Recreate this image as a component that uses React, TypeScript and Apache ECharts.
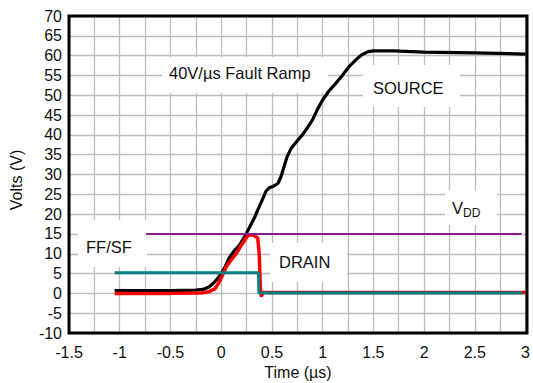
import React, { useEffect, useRef } from 'react';
import * as echarts from 'echarts';

const xTicks = { min: -1.5, max: 3, step: 0.25 };
const yTicks = { min: -10, max: 70, step: 5 };

const sourceData: [number, number][] = [
  [-1.05, 0.7], [-0.5, 0.7], [-0.25, 0.8], [-0.18, 1.0], [-0.12, 1.6], [-0.08, 2.5],
  [-0.04, 3.6], [0, 5.0], [0.04, 6.8], [0.08, 9.0], [0.13, 10.8], [0.18, 12.2],
  [0.22, 13.8], [0.25, 15.2], [0.29, 17.2], [0.33, 19.2], [0.36, 21], [0.39, 22.7],
  [0.42, 24.5], [0.44, 25.7], [0.47, 26.6], [0.52, 27.1], [0.56, 27.8], [0.59, 29.5],
  [0.62, 32], [0.65, 34.5], [0.69, 36.6], [0.74, 38.2], [0.8, 40], [0.85, 41.8],
  [0.9, 43.8], [0.95, 46.5], [1.0, 48.8], [1.06, 51], [1.13, 53], [1.2, 55.2],
  [1.26, 57.2], [1.33, 59], [1.39, 60.3], [1.45, 61], [1.5, 61.2], [1.7, 61.2],
  [2.0, 60.9], [2.5, 60.7], [3.0, 60.4],
];

const drainData: [number, number][] = [
  [-1.05, 0], [-0.5, 0], [-0.2, 0.1], [-0.12, 0.4], [-0.06, 1.2], [-0.02, 2.8],
  [0.02, 5], [0.05, 6.7], [0.1, 8.5], [0.15, 10.1], [0.21, 12.6], [0.26, 14.5],
  [0.29, 14.8], [0.33, 14.5], [0.36, 14.0], [0.375, 10], [0.385, 2], [0.395, -0.8],
  [0.41, 0.2], [0.6, 0.25], [3.0, 0.25],
];

const ffsfData: [number, number][] = [
  [-1.05, 5.2], [0.367, 5.2], [0.372, 0.1], [2.97, 0.1],
];

const vddData: [number, number][] = [
  [-0.74, 15], [2.96, 15],
];

const FONT = '"Liberation Sans", Arial, sans-serif';

export default function App() {
  const ref = useRef<HTMLDivElement>(null);
  useEffect(() => {
    const chart = echarts.init(ref.current!, null, { renderer: 'svg' });
    const line = (name: string, data: [number, number][], color: string, width: number) => ({
      name,
      type: 'line',
      data,
      showSymbol: false,
      symbol: 'none',
      lineStyle: { color, width },
      itemStyle: { color },
    });
    const box = (x: number, y: number, w: number, h: number) => ({
      type: 'rect', z: 1, shape: { x, y, width: w, height: h }, style: { fill: '#fff' },
    });
    const txt = (text: string, x: number, y: number, size = 16.5, extra: any = {}) => ({
      type: 'text', z: 5, x, y,
      style: { text, fill: '#111', font: `${size}px ${FONT}`, textVerticalAlign: 'middle', verticalAlign: 'middle', ...extra },
    });
    chart.setOption({
      animation: false,
      backgroundColor: '#fff',
      grid: { left: 69, right: 6, top: 16, bottom: 50, show: false },
      xAxis: {
        type: 'value', min: xTicks.min, max: xTicks.max, interval: xTicks.step,
        axisLine: { show: false }, axisTick: { show: false },
        splitLine: { show: true, lineStyle: { color: '#bdbdbd', width: 1.3 } },
        axisLabel: {
          color: '#111', fontSize: 16, fontFamily: FONT, margin: 11,
          formatter: (v: number) => {
            const r = v * 2;
            return Math.abs(r - Math.round(r)) < 1e-6 ? String(Math.round(v * 100) / 100) : '';
          },
        },
      },
      yAxis: {
        type: 'value', min: yTicks.min, max: yTicks.max, interval: yTicks.step,
        axisLine: { show: false }, axisTick: { show: false },
        splitLine: { show: true, lineStyle: { color: '#bdbdbd', width: 1.3 } },
        axisLabel: { color: '#111', fontSize: 16, fontFamily: FONT, margin: 7 },
      },
      series: [
        line('SOURCE', sourceData, '#000000', 3.2),
        line('DRAIN', drainData, '#ff0000', 3.5),
        line('FF/SF', ffsfData, '#008080', 3),
        line('VDD', vddData, '#8b1a8b', 2),
      ],
      graphic: [
        box(162, 57, 166, 36),
        box(363, 65, 97, 42),
        box(445, 190, 52, 35),
        box(78, 220, 69, 47),
        box(270, 243, 77, 39),
        {
          type: 'rect', z: 10, shape: { x: 69, y: 16, width: 458, height: 317 },
          style: { fill: 'none', stroke: '#000', lineWidth: 3 },
        },
        txt('40V/\u00b5s Fault Ramp', 169, 73),
        txt('SOURCE', 373, 88),
        txt('V', 452, 208),
        txt('DD', 463, 213, 12),
        txt('FF/SF', 86, 247),
        txt('DRAIN', 279, 262),
        txt('Time (\u00b5s)', 298, 372, 16, { align: 'center', textAlign: 'center' }),
        {
          type: 'text', z: 5, x: 16, y: 180, rotation: Math.PI / 2,
          style: { text: 'Volts (V)', fill: '#111', font: `16px ${FONT}`, align: 'center', textAlign: 'center', verticalAlign: 'middle', textVerticalAlign: 'middle' },
        },
      ],
    });
    return () => chart.dispose();
  }, []);
  return <div ref={ref} style={{ position: 'absolute', left: 0, top: 0, width: 533, height: 383, background: '#fff' }} />;
}
